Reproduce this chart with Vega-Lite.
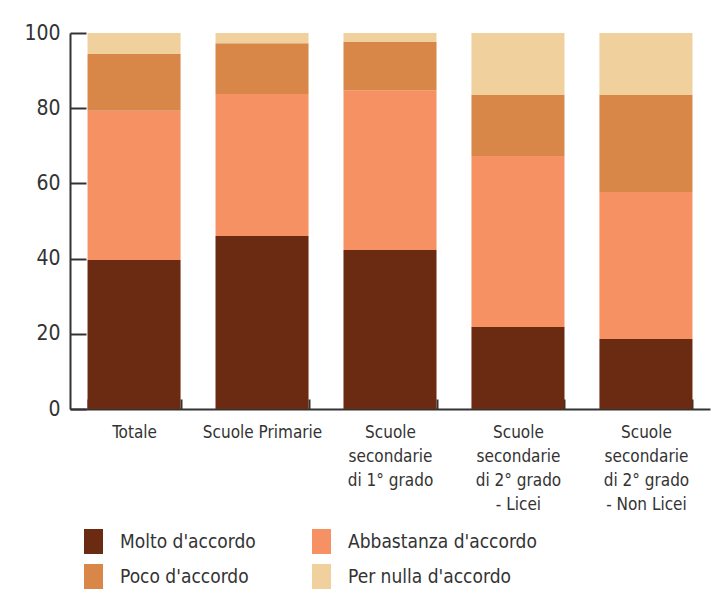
{
  "$schema": "https://vega.github.io/schema/vega-lite/v6.json",
  "width": 640,
  "height": 376,
  "autosize": "none",
  "padding": {"left": 70, "top": 33, "right": 8, "bottom": 191},
  "background": "white",
  "config": {
    "view": {"stroke": null},
    "font": "DejaVu Sans Condensed, Liberation Sans, sans-serif",
    "legend": {"orient": "none"}
  },
  "data": {
    "values": [
      {"scuola": "Totale", "risposta": "Molto d'accordo", "k": 1, "pct": 39.6},
      {"scuola": "Totale", "risposta": "Abbastanza d'accordo", "k": 2, "pct": 39.7},
      {"scuola": "Totale", "risposta": "Poco d'accordo", "k": 3, "pct": 15.1},
      {"scuola": "Totale", "risposta": "Per nulla d'accordo", "k": 4, "pct": 5.6},
      {"scuola": "Scuole Primarie", "risposta": "Molto d'accordo", "k": 1, "pct": 46.0},
      {"scuola": "Scuole Primarie", "risposta": "Abbastanza d'accordo", "k": 2, "pct": 37.8},
      {"scuola": "Scuole Primarie", "risposta": "Poco d'accordo", "k": 3, "pct": 13.5},
      {"scuola": "Scuole Primarie", "risposta": "Per nulla d'accordo", "k": 4, "pct": 2.7},
      {"scuola": "Scuole\nsecondarie\ndi 1° grado", "risposta": "Molto d'accordo", "k": 1, "pct": 42.3},
      {"scuola": "Scuole\nsecondarie\ndi 1° grado", "risposta": "Abbastanza d'accordo", "k": 2, "pct": 42.5},
      {"scuola": "Scuole\nsecondarie\ndi 1° grado", "risposta": "Poco d'accordo", "k": 3, "pct": 12.8},
      {"scuola": "Scuole\nsecondarie\ndi 1° grado", "risposta": "Per nulla d'accordo", "k": 4, "pct": 2.4},
      {"scuola": "Scuole\nsecondarie\ndi 2° grado\n- Licei", "risposta": "Molto d'accordo", "k": 1, "pct": 21.8},
      {"scuola": "Scuole\nsecondarie\ndi 2° grado\n- Licei", "risposta": "Abbastanza d'accordo", "k": 2, "pct": 45.5},
      {"scuola": "Scuole\nsecondarie\ndi 2° grado\n- Licei", "risposta": "Poco d'accordo", "k": 3, "pct": 16.2},
      {"scuola": "Scuole\nsecondarie\ndi 2° grado\n- Licei", "risposta": "Per nulla d'accordo", "k": 4, "pct": 16.5},
      {"scuola": "Scuole\nsecondarie\ndi 2° grado\n- Non Licei", "risposta": "Molto d'accordo", "k": 1, "pct": 18.6},
      {"scuola": "Scuole\nsecondarie\ndi 2° grado\n- Non Licei", "risposta": "Abbastanza d'accordo", "k": 2, "pct": 39.1},
      {"scuola": "Scuole\nsecondarie\ndi 2° grado\n- Non Licei", "risposta": "Poco d'accordo", "k": 3, "pct": 25.8},
      {"scuola": "Scuole\nsecondarie\ndi 2° grado\n- Non Licei", "risposta": "Per nulla d'accordo", "k": 4, "pct": 16.5}
    ]
  },
  "mark": {"type": "bar"},
  "encoding": {
    "x": {
      "field": "scuola",
      "type": "nominal",
      "sort": null,
      "scale": {"paddingInner": 0.273, "paddingOuter": 0.137},
      "axis": {
        "title": null,
        "labelAngle": 0,
        "labelExpr": "isString(datum.value) ? split(datum.value, '\\n') : ''",
        "labelFontSize": 17,
        "labelColor": "#333333",
        "labelLineHeight": 24,
        "labelPadding": 25,
        "labelBaseline": "top",
        "labelLimit": 0,
        "tickBand": "extent",
        "tickSize": -10,
        "tickWidth": 2,
        "tickColor": "#333333",
        "domainColor": "#333333",
        "domainWidth": 2
      }
    },
    "y": {
      "field": "pct",
      "type": "quantitative",
      "stack": "zero",
      "scale": {"domain": [0, 100]},
      "axis": {
        "title": null,
        "grid": false,
        "values": [0, 20, 40, 60, 80, 100],
        "labelFontSize": 21,
        "labelColor": "#333333",
        "labelPadding": 26,
        "tickSize": -16,
        "tickWidth": 2,
        "tickColor": "#333333",
        "domainColor": "#333333",
        "domainWidth": 2
      }
    },
    "order": {"field": "k", "type": "quantitative"},
    "color": {
      "field": "risposta",
      "type": "nominal",
      "scale": {
        "domain": ["Molto d'accordo", "Abbastanza d'accordo", "Poco d'accordo", "Per nulla d'accordo"],
        "range": ["#6b2a12", "#f69163", "#d88748", "#f0d09c"]
      },
      "legend": {
        "title": null,
        "orient": "none",
        "direction": "horizontal",
        "legendX": 11,
        "legendY": 496,
        "columns": 2,
        "columnPadding": 53,
        "rowPadding": 10,
        "symbolType": "M-0.76,-1H0.76V1H-0.76Z",
        "symbolSize": 625,
        "symbolStrokeWidth": 0,
        "labelFontSize": 19,
        "labelColor": "#333333",
        "labelOffset": 14,
        "labelLimit": 300
      }
    }
  }
}
